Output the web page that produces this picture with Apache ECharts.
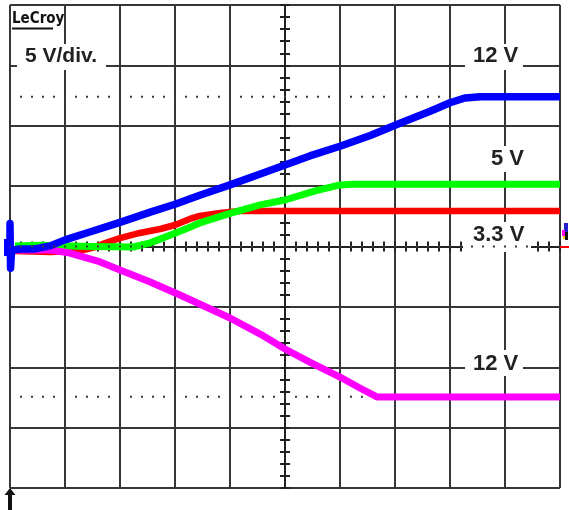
<!DOCTYPE html>
<html><head><meta charset="utf-8">
<script src="https://cdn.jsdelivr.net/npm/echarts@6/dist/echarts.min.js"></script>
<style>html,body{margin:0;padding:0;background:#fff}#c{width:569px;height:510px}</style>
</head><body><div id="c"></div>
<script>
// x: time in divisions (0..10), y: volts on screen (5 V/div)
const logoText = 'LeCroy';
const scaleLabel = '5 V/div.';
const levelLabels = ['12 V', '5 V', '3.3 V', '12 V'];
const refLevels = [12.4, 0, -12.45];

const blue12V = [[0,-0.3],[0,1.9],[0.01,-1.8],[0.03,-0.3],[0.18,-0.2],[0.45,-0.2],[0.73,0.05],[1.0,0.55],[1.45,1.2],[2.0,2.0],[2.55,2.85],[3.0,3.5],[3.45,4.25],[4.0,5.1],[4.55,6.0],[5.0,6.75],[5.45,7.5],[6.0,8.3],[6.55,9.2],[7.09,10.2],[7.64,11.2],[8.0,11.9],[8.27,12.3],[8.55,12.4],[10,12.4]];
const green5V = [[0.09,0.05],[0.55,0.1],[1.45,0],[2.24,-0.04],[2.55,0.3],[3.0,1.1],[3.27,1.6],[3.45,1.95],[4.0,2.75],[4.55,3.45],[5.0,3.85],[5.55,4.6],[6.0,5.1],[6.22,5.15],[10,5.15]];
const red3V3 = [[0.09,-0.37],[0.73,-0.46],[1.27,-0.37],[1.55,-0.04],[1.73,0.29],[2.0,0.7],[2.36,1.12],[2.73,1.45],[3.0,1.78],[3.27,2.28],[3.45,2.53],[3.82,2.77],[4.18,2.94],[10,2.94]];
const magentaNeg12V = [[0.09,-0.29],[0.73,-0.29],[1.09,-0.54],[1.64,-1.28],[2.0,-1.95],[2.55,-2.94],[3.09,-4.02],[4.0,-5.92],[4.55,-7.25],[5.0,-8.49],[5.45,-9.57],[6.0,-10.81],[6.36,-11.72],[6.67,-12.46],[10,-12.46]];

const gridColor = '#363636';
const tickStyle = {color:'#222', width:2};

function dotted(level, z){
  return {type:'line', data:[[0,level],[10,level]], symbol:'none', silent:true, z:z,
    lineStyle:{color:'#3a3a3a', width:2, type:[2,9], dashOffset:1}};
}
function trace(data, color, w, z){
  return {type:'line', data:data, symbol:'none', showSymbol:false, z:z, silent:true,
    lineStyle:{color:color, width:w, join:'round', cap:'butt'}};
}
function centerX(inside){
  return {type:'value', min:-5, max:5, interval:1, position:'bottom',
    axisLine:{show:!inside, onZero:true, lineStyle:{color:'#222', width:2}},
    axisTick:{show:true, inside:inside, length:5, lineStyle:tickStyle},
    minorTick:{show:true, splitNumber:5, length:5, lineStyle:tickStyle},
    axisLabel:{show:false}, splitLine:{show:false}};
}
function centerY(inside, idx){
  return {type:'value', min:-4, max:4, interval:1, position:'left',
    axisLine:{show:!inside, onZero:true, onZeroAxisIndex:idx, lineStyle:{color:'#222', width:2}},
    axisTick:{show:true, inside:inside, length:5, lineStyle:tickStyle},
    minorTick:{show:true, splitNumber:5, length:5, lineStyle:tickStyle},
    axisLabel:{show:false}, splitLine:{show:false}};
}
const labelFont = 'bold 22px "Liberation Sans", Arial, sans-serif';
function whiteBox(x,y,w,h){ return {type:'rect', z:10, shape:{x:x,y:y,width:w,height:h}, style:{fill:'#fff'}}; }
function label(t,x,y,font){ return {type:'text', z:11, x:x, y:y, style:{text:t, font:font||labelFont, fill:'#222', verticalAlign:'middle', align:'left'}}; }

const chart = echarts.init(document.getElementById('c'), null, {renderer:'canvas'});
chart.setOption({
  animation:false,
  backgroundColor:'#fff',
  grid:{left:10, right:9, top:5, bottom:22, containLabel:false, outerBoundsMode:'none'},
  xAxis:[
    {type:'value', min:0, max:10, interval:1, axisLine:{show:false, onZero:false}, axisTick:{show:false}, axisLabel:{show:false},
     splitLine:{show:true, lineStyle:{color:gridColor, width:2}}},
    centerX(false), centerX(true)
  ],
  yAxis:[
    {type:'value', min:-20, max:20, interval:5, axisLine:{show:false, onZero:false}, axisTick:{show:false}, axisLabel:{show:false},
     splitLine:{show:true, lineStyle:{color:gridColor, width:2}}},
    centerY(false,1), centerY(true,2)
  ],
  series:[
    dotted(refLevels[0], 2),
    dotted(refLevels[2], 2),
    dotted(refLevels[1], 20),
    trace(red3V3, '#ff0000', 6.5, 3),
    trace(green5V, '#00ff00', 7, 4),
    trace(magentaNeg12V, '#ff00ff', 7, 5),
    trace(blue12V, '#0000ff', 7.5, 6)
  ],
  graphic:[
    whiteBox(17,44,89,26), label(scaleLabel,25,56,'bold 21px "Liberation Sans", Arial, sans-serif'),
    whiteBox(465,44,58,26), label(levelLabels[0],473,56),
    whiteBox(486,146,41,26), label(levelLabels[1],491,159),
    whiteBox(463,222,68,30), label(levelLabels[2],473,235),
    whiteBox(465,350,58,26), label(levelLabels[3],473,363.5),
    {type:'text', z:11, x:12, y:19, style:{text:logoText, font:'bold 15px "DejaVu Sans Condensed", "Liberation Sans", sans-serif', fill:'#111', verticalAlign:'middle'}},
    {type:'rect', z:11, shape:{x:12,y:27.5,width:41,height:2}, style:{fill:'#111'}},
    {type:'polygon', z:11, shape:{points:[[10,488],[15.5,495],[12,495],[12,510],[8,510],[8,495],[4.5,495]]}, style:{fill:'#111'}},
    {type:'rect', z:11, shape:{x:4,y:239,width:9,height:17}, style:{fill:'#0000ff'}},
    {type:'rect', z:11, shape:{x:560,y:246,width:9,height:2}, style:{fill:'#ff0000'}},
    {type:'rect', z:11, shape:{x:564,y:223,width:4,height:9}, style:{fill:'#2222cc'}},
    {type:'rect', z:11, shape:{x:562,y:230,width:3,height:6}, style:{fill:'#ff00ff'}},
    {type:'rect', z:11, shape:{x:565,y:232,width:3,height:8}, style:{fill:'#111'}},
    {type:'rect', z:11, shape:{x:563,y:236,width:2,height:3}, style:{fill:'#ffcc00'}}
  ]
});
</script></body></html>
